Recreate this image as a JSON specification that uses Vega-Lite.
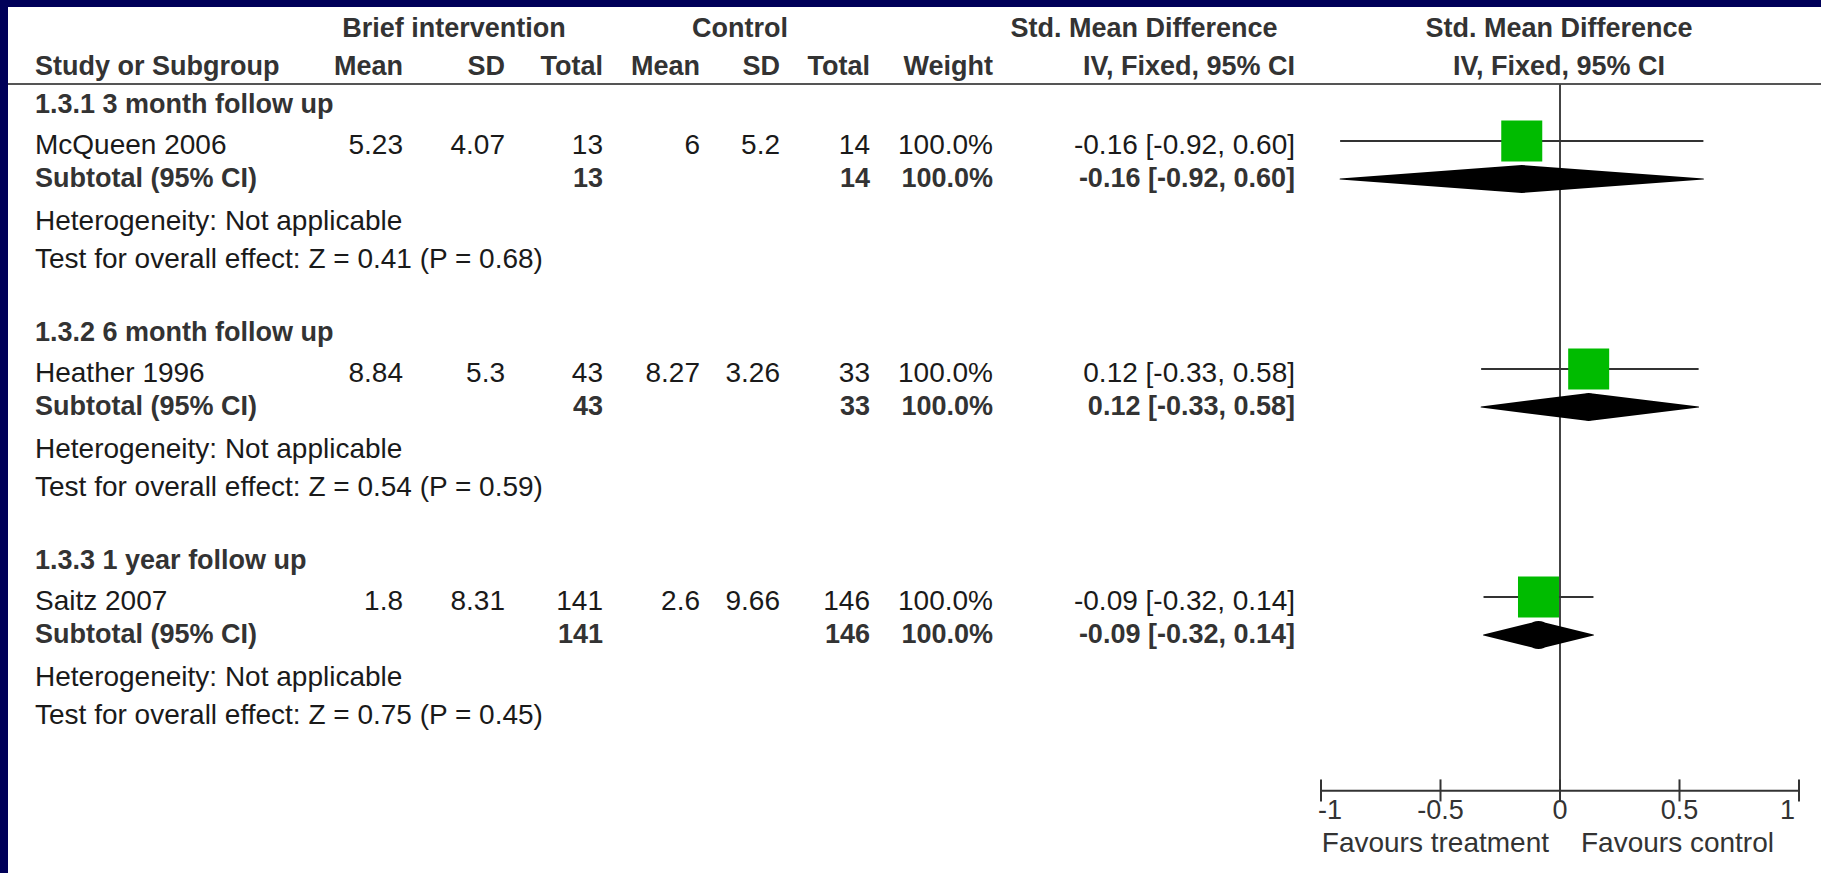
{
  "$schema": "https://vega.github.io/schema/vega-lite/v6.json",
  "width": 1813,
  "height": 866,
  "padding": {"left": 8, "top": 7, "right": 0, "bottom": 0},
  "autosize": {"type": "none"},
  "background": "#000059",
  "config": {
    "view": {"fill": "white", "stroke": null},
    "text": {"font": "Liberation Sans", "baseline": "middle"}
  },
  "datasets": {
    "cells": [
      {"row": -2, "col": 1.5, "text": "Brief intervention", "kind": "header"},
      {"row": -2, "col": 4.5, "text": "Control", "kind": "header"},
      {"row": -2, "col": 7.5, "text": "Std. Mean Difference", "kind": "header"},
      {"row": -2, "col": 9, "text": "Std. Mean Difference", "kind": "header"},
      {"row": -1, "col": 0, "text": "Study or Subgroup", "kind": "header"},
      {"row": -1, "col": 1, "text": "Mean", "kind": "header"},
      {"row": -1, "col": 2, "text": "SD", "kind": "header"},
      {"row": -1, "col": 3, "text": "Total", "kind": "header"},
      {"row": -1, "col": 4, "text": "Mean", "kind": "header"},
      {"row": -1, "col": 5, "text": "SD", "kind": "header"},
      {"row": -1, "col": 6, "text": "Total", "kind": "header"},
      {"row": -1, "col": 7, "text": "Weight", "kind": "header"},
      {"row": -1, "col": 8, "text": "IV, Fixed, 95% CI", "kind": "header"},
      {"row": -1, "col": 9, "text": "IV, Fixed, 95% CI", "kind": "header"},

      {"row": 0, "col": 0, "text": "1.3.1 3 month follow up", "kind": "group"},
      {"row": 1, "col": 0, "text": "McQueen 2006", "kind": "study"},
      {"row": 1, "col": 1, "text": "5.23", "kind": "study"},
      {"row": 1, "col": 2, "text": "4.07", "kind": "study"},
      {"row": 1, "col": 3, "text": "13", "kind": "study"},
      {"row": 1, "col": 4, "text": "6", "kind": "study"},
      {"row": 1, "col": 5, "text": "5.2", "kind": "study"},
      {"row": 1, "col": 6, "text": "14", "kind": "study"},
      {"row": 1, "col": 7, "text": "100.0%", "kind": "study"},
      {"row": 1, "col": 8, "text": "-0.16 [-0.92, 0.60]", "kind": "study"},
      {"row": 2, "col": 0, "text": "Subtotal (95% CI)", "kind": "subtotal"},
      {"row": 2, "col": 3, "text": "13", "kind": "subtotal"},
      {"row": 2, "col": 6, "text": "14", "kind": "subtotal"},
      {"row": 2, "col": 7, "text": "100.0%", "kind": "subtotal"},
      {"row": 2, "col": 8, "text": "-0.16 [-0.92, 0.60]", "kind": "subtotal"},
      {"row": 3, "col": 0, "text": "Heterogeneity: Not applicable", "kind": "note"},
      {"row": 4, "col": 0, "text": "Test for overall effect: Z = 0.41 (P = 0.68)", "kind": "note"},

      {"row": 6, "col": 0, "text": "1.3.2 6 month follow up", "kind": "group"},
      {"row": 7, "col": 0, "text": "Heather 1996", "kind": "study"},
      {"row": 7, "col": 1, "text": "8.84", "kind": "study"},
      {"row": 7, "col": 2, "text": "5.3", "kind": "study"},
      {"row": 7, "col": 3, "text": "43", "kind": "study"},
      {"row": 7, "col": 4, "text": "8.27", "kind": "study"},
      {"row": 7, "col": 5, "text": "3.26", "kind": "study"},
      {"row": 7, "col": 6, "text": "33", "kind": "study"},
      {"row": 7, "col": 7, "text": "100.0%", "kind": "study"},
      {"row": 7, "col": 8, "text": "0.12 [-0.33, 0.58]", "kind": "study"},
      {"row": 8, "col": 0, "text": "Subtotal (95% CI)", "kind": "subtotal"},
      {"row": 8, "col": 3, "text": "43", "kind": "subtotal"},
      {"row": 8, "col": 6, "text": "33", "kind": "subtotal"},
      {"row": 8, "col": 7, "text": "100.0%", "kind": "subtotal"},
      {"row": 8, "col": 8, "text": "0.12 [-0.33, 0.58]", "kind": "subtotal"},
      {"row": 9, "col": 0, "text": "Heterogeneity: Not applicable", "kind": "note"},
      {"row": 10, "col": 0, "text": "Test for overall effect: Z = 0.54 (P = 0.59)", "kind": "note"},

      {"row": 12, "col": 0, "text": "1.3.3 1 year follow up", "kind": "group"},
      {"row": 13, "col": 0, "text": "Saitz 2007", "kind": "study"},
      {"row": 13, "col": 1, "text": "1.8", "kind": "study"},
      {"row": 13, "col": 2, "text": "8.31", "kind": "study"},
      {"row": 13, "col": 3, "text": "141", "kind": "study"},
      {"row": 13, "col": 4, "text": "2.6", "kind": "study"},
      {"row": 13, "col": 5, "text": "9.66", "kind": "study"},
      {"row": 13, "col": 6, "text": "146", "kind": "study"},
      {"row": 13, "col": 7, "text": "100.0%", "kind": "study"},
      {"row": 13, "col": 8, "text": "-0.09 [-0.32, 0.14]", "kind": "study"},
      {"row": 14, "col": 0, "text": "Subtotal (95% CI)", "kind": "subtotal"},
      {"row": 14, "col": 3, "text": "141", "kind": "subtotal"},
      {"row": 14, "col": 6, "text": "146", "kind": "subtotal"},
      {"row": 14, "col": 7, "text": "100.0%", "kind": "subtotal"},
      {"row": 14, "col": 8, "text": "-0.09 [-0.32, 0.14]", "kind": "subtotal"},
      {"row": 15, "col": 0, "text": "Heterogeneity: Not applicable", "kind": "note"},
      {"row": 16, "col": 0, "text": "Test for overall effect: Z = 0.75 (P = 0.45)", "kind": "note"}
    ],
    "effects": [
      {"row": 1, "kind": "study", "est": -0.16, "lo": -0.92, "hi": 0.60},
      {"row": 2, "kind": "subtotal", "est": -0.16, "lo": -0.92, "hi": 0.60},
      {"row": 7, "kind": "study", "est": 0.12, "lo": -0.33, "hi": 0.58},
      {"row": 8, "kind": "subtotal", "est": 0.12, "lo": -0.33, "hi": 0.58},
      {"row": 13, "kind": "study", "est": -0.09, "lo": -0.32, "hi": 0.14},
      {"row": 14, "kind": "subtotal", "est": -0.09, "lo": -0.32, "hi": 0.14}
    ],
    "ticks": [
      {"tick": -1, "label": "-1"},
      {"tick": -0.5, "label": "-0.5"},
      {"tick": 0, "label": "0"},
      {"tick": 0.5, "label": "0.5"},
      {"tick": 1, "label": "1"}
    ],
    "favours": [
      {"side": "treatment", "label": "Favours treatment"},
      {"side": "control", "label": "Favours control"}
    ]
  },
  "layer": [
    {
      "data": {"name": "ticks"},
      "transform": [{"filter": "datum.tick == 0"}],
      "mark": {"type": "rule", "color": "#555555", "strokeWidth": 2},
      "encoding": {
        "y": {"datum": -0.5, "type": "quantitative", "scale": {"domain": [-2, 18], "range": [20, 780], "zero": false, "nice": false}, "axis": null}
      }
    },
    {
      "data": {"name": "ticks"},
      "transform": [{"filter": "datum.tick == 0"}],
      "mark": {"type": "rule", "color": "#444444", "strokeWidth": 2},
      "encoding": {
        "x": {"field": "tick", "type": "quantitative", "scale": {"domain": [-1, 1], "range": [1313, 1791], "zero": false, "nice": false}, "axis": null},
        "y": {"datum": -0.5, "type": "quantitative", "scale": {"domain": [-2, 18], "range": [20, 780], "zero": false, "nice": false}, "axis": null},
        "y2": {"datum": 18.1}
      }
    },
    {
      "data": {"name": "ticks"},
      "transform": [{"aggregate": [{"op": "min", "field": "tick", "as": "tmin"}, {"op": "max", "field": "tick", "as": "tmax"}]}],
      "mark": {"type": "rule", "color": "#333333", "strokeWidth": 2},
      "encoding": {
        "x": {"field": "tmin", "type": "quantitative", "scale": {"domain": [-1, 1], "range": [1313, 1791], "zero": false, "nice": false}, "axis": null},
        "x2": {"field": "tmax"},
        "y": {"datum": 18.1, "type": "quantitative", "scale": {"domain": [-2, 18], "range": [20, 780], "zero": false, "nice": false}, "axis": null}
      }
    },
    {
      "data": {"name": "ticks"},
      "mark": {"type": "rule", "color": "#333333", "strokeWidth": 2},
      "encoding": {
        "x": {"field": "tick", "type": "quantitative", "scale": {"domain": [-1, 1], "range": [1313, 1791], "zero": false, "nice": false}, "axis": null},
        "y": {"datum": 17.8, "type": "quantitative", "scale": {"domain": [-2, 18], "range": [20, 780], "zero": false, "nice": false}, "axis": null},
        "y2": {"datum": 18.38}
      }
    },
    {
      "data": {"name": "ticks"},
      "transform": [{"filter": "datum.tick > -1 && datum.tick < 1"}],
      "mark": {"type": "text", "fontSize": 27, "color": "#333333", "align": "center"},
      "encoding": {
        "x": {"field": "tick", "type": "quantitative", "scale": {"domain": [-1, 1], "range": [1313, 1791], "zero": false, "nice": false}, "axis": null},
        "y": {"datum": 18.62, "type": "quantitative", "scale": {"domain": [-2, 18], "range": [20, 780], "zero": false, "nice": false}, "axis": null},
        "text": {"field": "label"}
      }
    },
    {
      "data": {"name": "ticks"},
      "transform": [{"filter": "datum.tick == -1"}],
      "mark": {"type": "text", "fontSize": 27, "color": "#333333", "align": "left", "dx": -3},
      "encoding": {
        "x": {"field": "tick", "type": "quantitative", "scale": {"domain": [-1, 1], "range": [1313, 1791], "zero": false, "nice": false}, "axis": null},
        "y": {"datum": 18.62, "type": "quantitative", "scale": {"domain": [-2, 18], "range": [20, 780], "zero": false, "nice": false}, "axis": null},
        "text": {"field": "label"}
      }
    },
    {
      "data": {"name": "ticks"},
      "transform": [{"filter": "datum.tick == 1"}],
      "mark": {"type": "text", "fontSize": 27, "color": "#333333", "align": "right", "dx": -4},
      "encoding": {
        "x": {"field": "tick", "type": "quantitative", "scale": {"domain": [-1, 1], "range": [1313, 1791], "zero": false, "nice": false}, "axis": null},
        "y": {"datum": 18.62, "type": "quantitative", "scale": {"domain": [-2, 18], "range": [20, 780], "zero": false, "nice": false}, "axis": null},
        "text": {"field": "label"}
      }
    },
    {
      "data": {"name": "favours"},
      "transform": [{"filter": "datum.side == 'treatment'"}],
      "mark": {"type": "text", "fontSize": 28, "color": "#333333", "align": "right", "dx": -11},
      "encoding": {
        "x": {"datum": 0, "type": "quantitative", "scale": {"domain": [-1, 1], "range": [1313, 1791], "zero": false, "nice": false}, "axis": null},
        "y": {"datum": 19.5, "type": "quantitative", "scale": {"domain": [-2, 18], "range": [20, 780], "zero": false, "nice": false}, "axis": null},
        "text": {"field": "label"}
      }
    },
    {
      "data": {"name": "favours"},
      "transform": [{"filter": "datum.side == 'control'"}],
      "mark": {"type": "text", "fontSize": 28, "color": "#333333", "align": "left", "dx": 21},
      "encoding": {
        "x": {"datum": 0, "type": "quantitative", "scale": {"domain": [-1, 1], "range": [1313, 1791], "zero": false, "nice": false}, "axis": null},
        "y": {"datum": 19.5, "type": "quantitative", "scale": {"domain": [-2, 18], "range": [20, 780], "zero": false, "nice": false}, "axis": null},
        "text": {"field": "label"}
      }
    },
    {
      "data": {"name": "effects"},
      "transform": [{"filter": "datum.kind == 'study'"}],
      "mark": {"type": "rule", "color": "#333333", "strokeWidth": 2},
      "encoding": {
        "x": {"field": "lo", "type": "quantitative", "scale": {"domain": [-1, 1], "range": [1313, 1791], "zero": false, "nice": false}, "axis": null},
        "x2": {"field": "hi"},
        "y": {"field": "row", "type": "quantitative", "scale": {"domain": [-2, 18], "range": [20, 780], "zero": false, "nice": false}, "axis": null}
      }
    },
    {
      "data": {"name": "effects"},
      "transform": [{"filter": "datum.kind == 'study'"}],
      "mark": {"type": "point", "shape": "square", "filled": true, "size": 1681, "color": "#00bb00", "opacity": 1, "strokeWidth": 0},
      "encoding": {
        "x": {"field": "est", "type": "quantitative", "scale": {"domain": [-1, 1], "range": [1313, 1791], "zero": false, "nice": false}, "axis": null},
        "y": {"field": "row", "type": "quantitative", "scale": {"domain": [-2, 18], "range": [20, 780], "zero": false, "nice": false}, "axis": null}
      }
    },
    {
      "data": {"name": "effects"},
      "transform": [
        {"filter": "datum.kind == 'subtotal'"},
        {"fold": ["lo", "est", "hi"], "as": ["key", "value"]}
      ],
      "mark": {"type": "trail", "color": "#000000"},
      "encoding": {
        "x": {"field": "value", "type": "quantitative", "scale": {"domain": [-1, 1], "range": [1313, 1791], "zero": false, "nice": false}, "axis": null},
        "y": {"field": "row", "type": "quantitative", "scale": {"domain": [-2, 18], "range": [20, 780], "zero": false, "nice": false}, "axis": null},
        "detail": {"field": "row", "type": "nominal"},
        "order": {"field": "value", "type": "quantitative"},
        "size": {"condition": {"test": "datum.key == 'est'", "value": 28}, "value": 0}
      }
    },
    {
      "data": {"name": "cells"},
      "transform": [{"filter": "(datum.kind == 'study' || datum.kind == 'note') && datum.col == 0"}],
      "mark": {"type": "text", "fontSize": 28, "color": "#1a1a1a", "align": "left", "dy": 5},
      "encoding": {
        "x": {"field": "col", "type": "quantitative", "scale": {"domain": [0, 1, 2, 3, 4, 5, 6, 7, 8, 9], "range": [27, 395, 497, 595, 692, 772, 862, 985, 1287, 1551], "zero": false, "nice": false}, "axis": null},
        "y": {"field": "row", "type": "quantitative", "scale": {"domain": [-2, 18], "range": [20, 780], "zero": false, "nice": false}, "axis": null},
        "text": {"field": "text"}
      }
    },
    {
      "data": {"name": "cells"},
      "transform": [{"filter": "(datum.kind == 'study' || datum.kind == 'note') && datum.col > 0"}],
      "mark": {"type": "text", "fontSize": 28, "color": "#1a1a1a", "align": "right", "dy": 5},
      "encoding": {
        "x": {"field": "col", "type": "quantitative", "scale": {"domain": [0, 1, 2, 3, 4, 5, 6, 7, 8, 9], "range": [27, 395, 497, 595, 692, 772, 862, 985, 1287, 1551], "zero": false, "nice": false}, "axis": null},
        "y": {"field": "row", "type": "quantitative", "scale": {"domain": [-2, 18], "range": [20, 780], "zero": false, "nice": false}, "axis": null},
        "text": {"field": "text"}
      }
    },
    {
      "data": {"name": "cells"},
      "transform": [{"filter": "(datum.kind == 'header' || datum.kind == 'group') && datum.col == 0"}],
      "mark": {"type": "text", "fontSize": 27, "fontWeight": "bold", "color": "#333333", "align": "left", "dy": 2},
      "encoding": {
        "x": {"field": "col", "type": "quantitative", "scale": {"domain": [0, 1, 2, 3, 4, 5, 6, 7, 8, 9], "range": [27, 395, 497, 595, 692, 772, 862, 985, 1287, 1551], "zero": false, "nice": false}, "axis": null},
        "y": {"field": "row", "type": "quantitative", "scale": {"domain": [-2, 18], "range": [20, 780], "zero": false, "nice": false}, "axis": null},
        "text": {"field": "text"}
      }
    },
    {
      "data": {"name": "cells"},
      "transform": [{"filter": "datum.kind == 'subtotal' && datum.col == 0"}],
      "mark": {"type": "text", "fontSize": 27, "fontWeight": "bold", "color": "#333333", "align": "left"},
      "encoding": {
        "x": {"field": "col", "type": "quantitative", "scale": {"domain": [0, 1, 2, 3, 4, 5, 6, 7, 8, 9], "range": [27, 395, 497, 595, 692, 772, 862, 985, 1287, 1551], "zero": false, "nice": false}, "axis": null},
        "y": {"field": "row", "type": "quantitative", "scale": {"domain": [-2, 18], "range": [20, 780], "zero": false, "nice": false}, "axis": null},
        "text": {"field": "text"}
      }
    },
    {
      "data": {"name": "cells"},
      "transform": [{"filter": "datum.kind == 'header' && datum.col > 0 && datum.col < 9 && datum.row > -2"}],
      "mark": {"type": "text", "fontSize": 27, "fontWeight": "bold", "color": "#333333", "align": "right", "dy": 2},
      "encoding": {
        "x": {"field": "col", "type": "quantitative", "scale": {"domain": [0, 1, 2, 3, 4, 5, 6, 7, 8, 9], "range": [27, 395, 497, 595, 692, 772, 862, 985, 1287, 1551], "zero": false, "nice": false}, "axis": null},
        "y": {"field": "row", "type": "quantitative", "scale": {"domain": [-2, 18], "range": [20, 780], "zero": false, "nice": false}, "axis": null},
        "text": {"field": "text"}
      }
    },
    {
      "data": {"name": "cells"},
      "transform": [{"filter": "datum.kind == 'subtotal' && datum.col > 0"}],
      "mark": {"type": "text", "fontSize": 27, "fontWeight": "bold", "color": "#333333", "align": "right"},
      "encoding": {
        "x": {"field": "col", "type": "quantitative", "scale": {"domain": [0, 1, 2, 3, 4, 5, 6, 7, 8, 9], "range": [27, 395, 497, 595, 692, 772, 862, 985, 1287, 1551], "zero": false, "nice": false}, "axis": null},
        "y": {"field": "row", "type": "quantitative", "scale": {"domain": [-2, 18], "range": [20, 780], "zero": false, "nice": false}, "axis": null},
        "text": {"field": "text"}
      }
    },
    {
      "data": {"name": "cells"},
      "transform": [{"filter": "datum.kind == 'header' && (datum.row == -2 || datum.col == 9)"}],
      "mark": {"type": "text", "fontSize": 27, "fontWeight": "bold", "color": "#333333", "align": "center", "dy": 2},
      "encoding": {
        "x": {"field": "col", "type": "quantitative", "scale": {"domain": [0, 1, 2, 3, 4, 5, 6, 7, 8, 9], "range": [27, 395, 497, 595, 692, 772, 862, 985, 1287, 1551], "zero": false, "nice": false}, "axis": null},
        "y": {"field": "row", "type": "quantitative", "scale": {"domain": [-2, 18], "range": [20, 780], "zero": false, "nice": false}, "axis": null},
        "text": {"field": "text"}
      }
    }
  ],
  "resolve": {"scale": {"x": "independent"}}
}
